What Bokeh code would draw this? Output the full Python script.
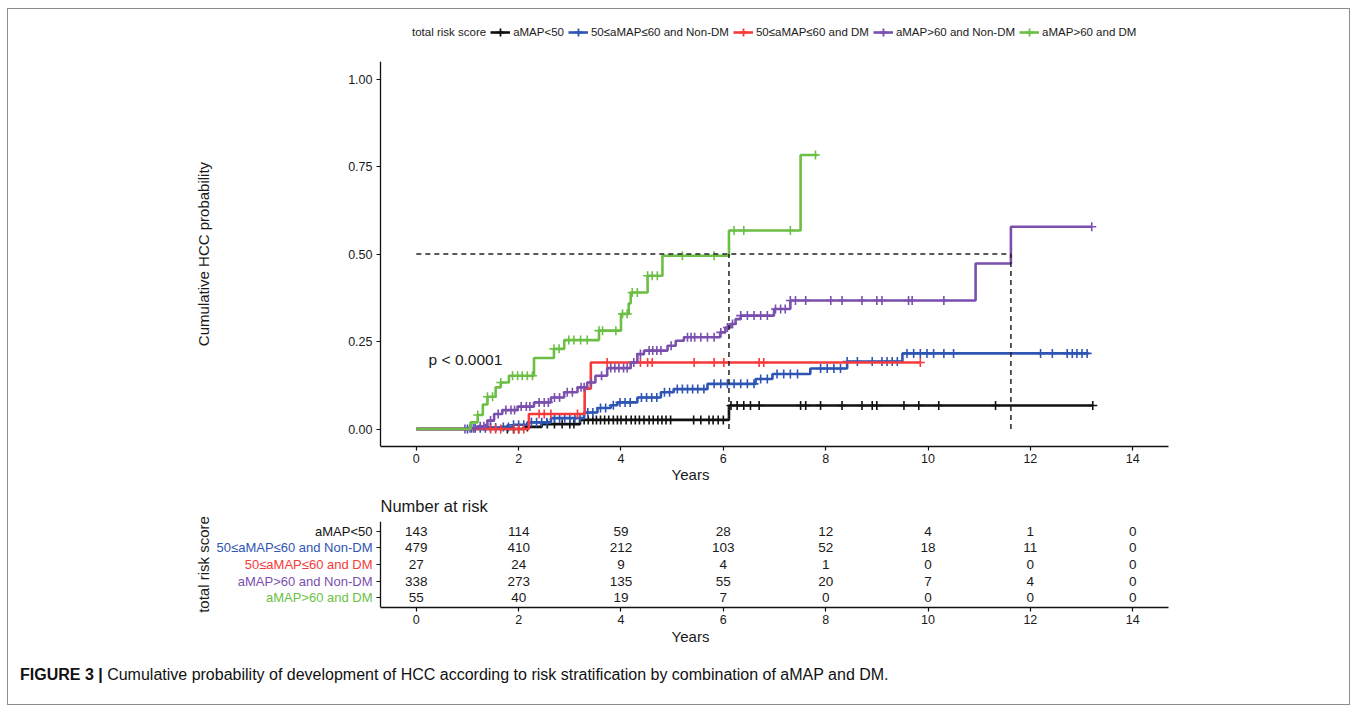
import numpy as np
from bokeh.plotting import figure
from bokeh.models import (Range1d, FixedTicker, Label, Legend, LegendItem,
                          NumeralTickFormatter, LinearAxis, Div, CustomJSTickFormatter)
from bokeh.layouts import column
from bokeh.embed import file_html
from bokeh.resources import INLINE

# ---------------- data ----------------
groups = ["aMAP<50", "50≤aMAP≤60 and Non-DM", "50≤aMAP≤60 and DM",
          "aMAP>60 and Non-DM", "aMAP>60 and DM"]
colors = ["#111111", "#2f55b4", "#f53b3b", "#7a4fae", "#6cbf45"]
legend_title = "total risk score"

black_t = [0, 2.1, 2.45, 3.2, 6.11, 13.22]
black_v = [0, 0.006, 0.014, 0.026, 0.067, 0.067]
black_c = [1.78, 1.9, 2.0, 2.17, 2.56, 2.7, 2.85, 3.0, 3.08, 3.28, 3.36, 3.45, 3.52, 3.6,
           3.68, 3.76, 3.85, 3.93, 4.0, 4.1, 4.2, 4.28, 4.36, 4.45, 4.55, 4.63, 4.72, 4.8,
           4.88, 4.97, 5.42, 5.56, 5.72, 5.8, 5.9, 6.0, 6.15, 6.27, 6.4, 6.53, 6.7, 7.51,
           7.61, 7.9, 8.32, 8.71, 8.91, 9.0, 9.53, 9.82, 10.21, 11.32, 13.22]

blue_t = [0, 1.06, 1.4, 1.65, 1.9, 2.17, 2.63, 3.28, 3.54, 3.8, 3.93, 4.32, 4.78, 5.03,
          5.69, 6.63, 6.96, 7.7, 8.42, 9.5, 13.14]
blue_v = [0, 0.002, 0.004, 0.006, 0.012, 0.019, 0.031, 0.047, 0.06, 0.068, 0.076, 0.09,
          0.105, 0.114, 0.129, 0.143, 0.157, 0.173, 0.193, 0.216, 0.216]
blue_c = [1.0, 1.08, 1.15, 1.25, 1.35, 1.45, 1.55, 1.7, 1.8, 1.9, 2.0, 2.1, 2.25, 2.35,
          2.45, 2.55, 2.7, 2.8, 2.9, 3.0, 3.1, 3.2, 3.35, 3.45, 3.6, 3.7, 3.85, 3.98, 4.08,
          4.18, 4.4, 4.5, 4.6, 4.7, 4.85, 4.95, 5.1, 5.2, 5.3, 5.4, 5.5, 5.62, 5.82, 5.95,
          6.08, 6.21, 6.34, 6.47, 6.6, 6.73, 6.86, 7.05, 7.18, 7.31, 7.45, 7.9, 8.03, 8.16,
          8.29, 8.42, 8.62, 8.91, 9.1, 9.2, 9.3, 9.4, 9.59, 9.72, 9.85, 9.98, 10.11, 10.31,
          10.5, 12.2, 12.43, 12.72, 12.82, 12.91, 13.01, 13.11]

red_t = [0, 2.2, 3.29, 3.41, 9.85]
red_v = [0, 0.043, 0.115, 0.19, 0.19]
red_c = [1.45, 1.55, 1.65, 1.91, 2.0, 2.1, 2.4, 2.5, 2.63, 3.15, 3.73, 4.38, 4.52, 4.61,
         5.43, 5.82, 6.01, 6.7, 6.79, 9.85]

purple_t = [0, 1.0, 1.2, 1.39, 1.52, 1.68, 1.98, 2.3, 2.63, 2.89, 3.15, 3.34, 3.5, 3.73,
            4.19, 4.32, 4.45, 4.91, 5.07, 5.23, 5.94, 6.04, 6.14, 6.24, 6.34, 6.99, 7.31,
            10.93, 11.62, 13.2]
purple_v = [0, 0.002, 0.008, 0.024, 0.043, 0.054, 0.064, 0.076, 0.09, 0.105, 0.119, 0.133,
            0.152, 0.174, 0.19, 0.214, 0.224, 0.238, 0.252, 0.262, 0.276, 0.29, 0.3, 0.314,
            0.324, 0.343, 0.367, 0.473, 0.578, 0.578]
purple_c = [0.95, 1.05, 1.12, 1.25, 1.32, 1.45, 1.6, 1.75, 1.85, 1.92, 2.05, 2.15, 2.22,
            2.4, 2.5, 2.58, 2.7, 2.8, 2.95, 3.05, 3.22, 3.28, 3.42, 3.62, 3.8, 3.88, 3.96,
            4.05, 4.12, 4.25, 4.38, 4.55, 4.62, 4.7, 4.78, 4.98, 5.3, 5.37, 5.44, 5.56, 5.69,
            5.82, 5.95, 6.08, 6.18, 6.34, 6.47, 6.6, 6.73, 6.86, 7.02, 7.12, 7.21, 7.31,
            7.41, 7.61, 8.1, 8.32, 8.71, 9.0, 9.1, 9.62, 9.69, 10.31, 13.2]

green_t = [0, 1.06, 1.2, 1.3, 1.39, 1.55, 1.65, 1.81, 2.3, 2.69, 2.89, 3.57, 4.0, 4.15,
           4.19, 4.52, 4.81, 6.11, 7.51, 7.84]
green_v = [0, 0.019, 0.04, 0.07, 0.092, 0.119, 0.133, 0.152, 0.203, 0.229, 0.254, 0.281,
           0.329, 0.359, 0.39, 0.438, 0.495, 0.567, 0.783, 0.783]
green_c = [1.2, 1.39, 1.49, 1.65, 1.88, 1.98, 2.07, 2.17, 2.27, 2.69, 2.79, 2.98, 3.08,
           3.21, 3.34, 3.57, 3.64, 3.9, 4.03, 4.12, 4.22, 4.32, 4.52, 4.61, 4.71, 5.2, 5.82,
           6.21, 6.4, 7.31, 7.8]

median_times = [6.11, 11.62]
median_level = 0.5
p_text = "p < 0.0001"

risk_times = [0, 2, 4, 6, 8, 10, 12, 14]
risk_black = [143, 114, 59, 28, 12, 4, 1, 0]
risk_blue = [479, 410, 212, 103, 52, 18, 11, 0]
risk_red = [27, 24, 9, 4, 1, 0, 0, 0]
risk_purple = [338, 273, 135, 55, 20, 7, 4, 0]
risk_green = [55, 40, 19, 7, 0, 0, 0, 0]

caption_bold = "FIGURE 3 |"
caption_text = ("Cumulative probability of development of HCC according to risk "
                "stratification by combination of aMAP and DM.")

series = [(black_t, black_v, black_c), (blue_t, blue_v, blue_c), (red_t, red_v, red_c),
          (purple_t, purple_v, purple_c), (green_t, green_v, green_c)]
risks = [risk_black, risk_blue, risk_red, risk_purple, risk_green]

FONT = "Liberation Sans"
TXT = "#1a1a1a"
XMIN, XMAX = -0.7, 14.7          # data extent of the axes (ggplot 5% expansion)
FRAME_W = 956                    # frame also holds the row labels of the table
SCALE = 788 / (XMAX - XMIN)
X0 = XMAX - FRAME_W / SCALE      # left edge of the (wider) frame
BL, BR = 204, 181
LINE_W = 2.6
CROSS = dict(marker="cross", size=9, line_width=1.6)


def style_axis(ax):
    ax.axis_line_color = "#111111"
    ax.axis_line_width = 1.3
    ax.major_tick_line_color = "#111111"
    ax.major_tick_line_width = 1.2
    ax.major_tick_out = 4
    ax.major_tick_in = 0
    ax.minor_tick_line_color = None
    ax.major_label_text_font = FONT
    ax.major_label_text_font_size = "12.5px"
    ax.major_label_text_color = TXT
    ax.axis_label_text_font = FONT
    ax.axis_label_text_font_size = "15px"
    ax.axis_label_text_font_style = "normal"
    ax.axis_label_text_color = TXT


def title_axis(fig, text):
    ax = LinearAxis(axis_label=text, ticker=FixedTicker(ticks=[]))
    ax.axis_line_color = None
    ax.major_tick_line_color = None
    ax.minor_tick_line_color = None
    ax.major_tick_out = 0
    ax.major_label_standoff = 0
    ax.axis_label_standoff = 1
    ax.axis_label_text_font = FONT
    ax.axis_label_text_font_size = "15px"
    ax.axis_label_text_font_style = "normal"
    ax.axis_label_text_color = TXT
    fig.add_layout(ax, "left")


# ---------------- legend strip ----------------
# The strip's ranges lie far from the data, so its renderers only feed the legend glyphs.
lg = figure(frame_width=FRAME_W, frame_height=40, min_border_left=BL, min_border_right=BR,
            min_border_top=0, min_border_bottom=0, x_range=Range1d(100, 101),
            y_range=Range1d(100, 101), output_backend="svg", toolbar_location=None)
lg.axis.visible = False
lg.grid.visible = False
lg.outline_line_color = None
dummy = lg.scatter(black_t, black_v, marker="cross", alpha=0)
items = [LegendItem(label=legend_title, renderers=[dummy])]
for (tt, vv, cc), col, name in zip(series, colors, groups):
    lr = lg.line(tt, vv, line_color=col, line_width=LINE_W)
    sr = lg.scatter(tt, vv, marker="cross", line_color=col, line_width=1.8)
    items.append(LegendItem(label=name, renderers=[lr, sr]))
legend = Legend(items=items, orientation="horizontal", location=(177, 7),
                label_text_font=FONT, label_text_font_size="11.5px",
                label_text_color=TXT, glyph_width=20, glyph_height=20,
                label_height=20, label_standoff=3, spacing=4, padding=0, margin=0,
                border_line_alpha=0, background_fill_alpha=0)
lg.add_layout(legend)

# ---------------- main KM plot ----------------
p = figure(frame_width=FRAME_W, frame_height=385, min_border_left=BL, min_border_right=BR,
           min_border_top=12, min_border_bottom=42,
           x_range=Range1d(X0, XMAX), y_range=Range1d(-0.05, 1.05),
           output_backend="svg", toolbar_location=None)
p.outline_line_color = None
p.grid.visible = False
style_axis(p.xaxis[0])
style_axis(p.yaxis[0])
p.xaxis.bounds = (XMIN, XMAX)
p.xaxis.ticker = FixedTicker(ticks=risk_times)
p.xaxis.axis_label = "Years"
p.xaxis.major_label_standoff = 3
p.xaxis.axis_label_standoff = 0
p.yaxis.fixed_location = XMIN
p.yaxis.ticker = FixedTicker(ticks=[0, 0.25, 0.5, 0.75, 1.0])
p.yaxis.formatter = NumeralTickFormatter(format="0.00")
p.yaxis.major_label_standoff = 4
title_axis(p, "Cumulative HCC probability")

for (tt, vv, cc), col in zip(series, colors):
    tt = np.asarray(tt); vv = np.asarray(vv); cc = np.asarray(cc)
    p.step(tt, vv, mode="after", line_color=col, line_width=LINE_W)
    idx = np.searchsorted(tt, cc, side="right") - 1
    p.scatter(cc, vv[idx], line_color=col, **CROSS)

p.line([0, max(median_times)], [median_level, median_level], line_color="#222222",
       line_width=1.5, line_dash="5 4")
p.segment(x0=median_times, y0=[0] * len(median_times), x1=median_times,
          y1=[median_level] * len(median_times), line_color="#222222",
          line_width=1.5, line_dash="5 4")

p.add_layout(Label(x=0.24, y=0.2, text=p_text, text_baseline="middle",
                   text_font=FONT, text_font_size="15.5px", text_color=TXT))

# ---------------- risk table ----------------
rows = [5, 4, 3, 2, 1]
t = figure(frame_width=FRAME_W, frame_height=86, min_border_left=BL, min_border_right=BR,
           min_border_top=33, min_border_bottom=40,
           x_range=Range1d(X0, XMAX), y_range=Range1d(0.4, 5.6),
           output_backend="svg", toolbar_location=None)
t.outline_line_color = None
t.grid.visible = False
t.title.text = "Number at risk"
t.title.text_font = FONT
t.title.text_font_size = "16.5px"
t.title.text_font_style = "normal"
t.title.text_color = TXT
t.title.align = "left"
t.title.offset = round((XMIN - X0) * SCALE)
t.title.standoff = 13
style_axis(t.xaxis[0])
style_axis(t.yaxis[0])
t.xaxis.bounds = (XMIN, XMAX)
t.xaxis.ticker = FixedTicker(ticks=risk_times)
t.xaxis.axis_label = "Years"
t.xaxis.major_label_standoff = 3
t.xaxis.axis_label_standoff = 1
t.yaxis.fixed_location = XMIN
t.yaxis.ticker = FixedTicker(ticks=rows)
t.yaxis.formatter = CustomJSTickFormatter(code="return ''")
title_axis(t, "total risk score")

for r, vals in zip(rows, risks):
    t.text(risk_times, [r] * len(risk_times), text=[str(x) for x in vals],
           text_align="center", text_baseline="middle", text_font_size="13.5px",
           text_color=TXT, text_font={"value": FONT})
t.text([XMIN] * len(rows), rows, text=groups, x_offset=-8, text_align="right",
       text_baseline="middle", text_font_size="13px", text_color=colors,
       text_font={"value": FONT})

# ---------------- caption ----------------
cap = Div(text=f'<b>{caption_bold}</b> {caption_text}', width=1320, height=39,
          margin=(18, 0, 0, 12),
          styles={"font-family": FONT, "font-size": "16px", "color": "#111111",
                  "line-height": "19px", "white-space": "nowrap"})

layout = column(lg, p, t, cap, spacing=0, margin=(8, 0, 0, 7),
                styles={"border": "1px solid #8c8c8c"})
open("out.html", "w").write(file_html(layout, INLINE))
